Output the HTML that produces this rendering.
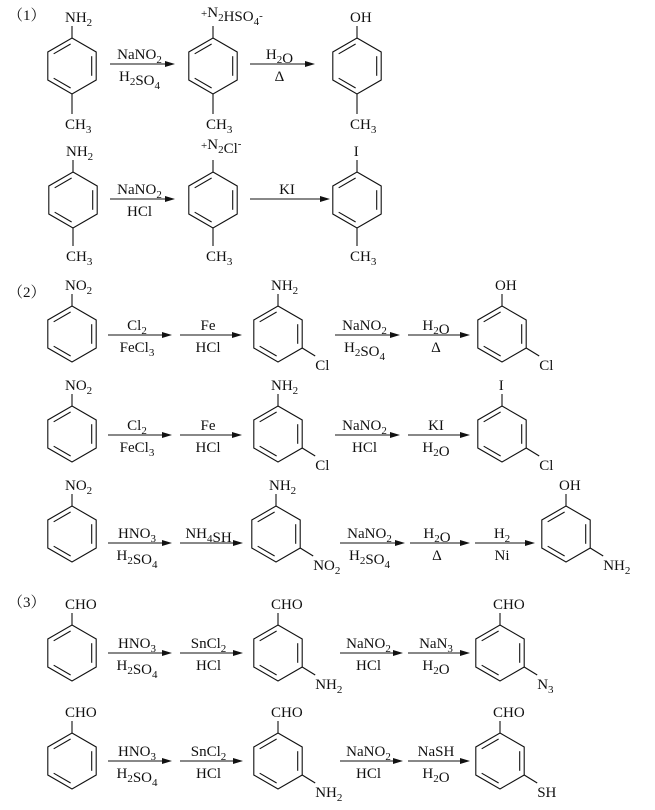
<!DOCTYPE html>
<html><head><meta charset="utf-8"><style>
body{margin:0;background:#fff;width:655px;height:805px;overflow:hidden}
svg text{font-family:"Liberation Serif","Noto Serif CJK SC",serif;font-size:15px;fill:#111}
</style></head><body>
<svg id="s" width="655" height="805" xmlns="http://www.w3.org/2000/svg" stroke="#111" stroke-width="1.1" fill="none"></svg>
<script>
const s=document.getElementById('s');let h='';
const R=28,W=24.2,V=14;
function ring(cx,cy,top,bot,meta,topBond,botLen){
 const p=[[cx,cy-R],[cx+W,cy-V],[cx+W,cy+V],[cx,cy+R],[cx-W,cy+V],[cx-W,cy-V]];
 h+=`<polygon points="${p.map(a=>a.join(',')).join(' ')}"/>`;
 [[5,0],[1,2],[3,4]].forEach(([a,b])=>{
  let A=p[a],B=p[b];let mx=(A[0]+B[0])/2,my=(A[1]+B[1])/2;
  let dx=cx-mx,dy=cy-my,l=Math.hypot(dx,dy);dx=dx/l*4.5;dy=dy/l*4.5;
  let sh=0.15;
  let a1=[A[0]+(B[0]-A[0])*sh+dx,A[1]+(B[1]-A[1])*sh+dy],b1=[B[0]+(A[0]-B[0])*sh+dx,B[1]+(A[1]-B[1])*sh+dy];
  h+=`<line x1="${a1[0]}" y1="${a1[1]}" x2="${b1[0]}" y2="${b1[1]}"/>`;
 });
 if(top||topBond){h+=`<line x1="${cx}" y1="${cy-R}" x2="${cx}" y2="${cy-R-12}"/>`;}
 if(top){h+=`<text x="${cx-7}" y="${cy-R-16}" stroke="none">${top}</text>`;}
 if(bot){const L=botLen||14;h+=`<line x1="${cx}" y1="${cy+R}" x2="${cx}" y2="${cy+R+L}"/>`;h+=`<text x="${cx-7}" y="${cy+R+L+15}" stroke="none">${bot}</text>`;}
 if(meta){h+=`<line x1="${cx+W}" y1="${cy+V}" x2="${cx+W+13}" y2="${cy+V+8}"/>`;h+=`<text x="${cx+W+13}" y="${cy+V+22}" stroke="none">${meta}</text>`;}
}
function arr(x1,x2,y,a,b){
 h+=`<line x1="${x1}" y1="${y}" x2="${x2-8}" y2="${y}"/><polygon points="${x2},${y} ${x2-10},${y-3} ${x2-10},${y+3}" fill="#111" stroke="none"/>`;
 const c=(x1+x2)/2-3;
 if(a)h+=`<text x="${c}" y="${y-5}" text-anchor="middle" stroke="none">${a}</text>`;
 if(b)h+=`<text x="${c}" y="${y+17}" text-anchor="middle" stroke="none">${b}</text>`;
}
const sb=t=>`<tspan font-size="11" dy="4">${t}</tspan><tspan dy="-4"></tspan>`;
const sp=t=>`<tspan font-size="11" dy="-6">${t}</tspan><tspan dy="6"></tspan>`;
const T=(x,y,t)=>h+=`<text x="${x}" y="${y}" stroke="none">${t}</text>`;
const NH2='NH'+sb('2'),CH3='CH'+sb('3'),NO2='NO'+sb('2'),NaNO2='NaNO'+sb('2'),H2SO4='H'+sb('2')+'SO'+sb('4'),H2O='H'+sb('2')+'O';
T(8,20,'（1）');
ring(72,66,NH2,CH3,null,0,20);arr(110,175,64,NaNO2,H2SO4);
ring(213,66,null,CH3,null,1,20);T(201,23,sp('+')+'N'+sb('2')+'HSO'+sb('4')+sp('-'));
arr(250,315,64,H2O,'Δ');ring(357,66,'OH',CH3,null,0,20);
ring(73,200,NH2,CH3,null,0,18);arr(110,175,199,NaNO2,'HCl');
ring(213,200,null,CH3,null,1,18);T(201,155,sp('+')+'N'+sb('2')+'Cl'+sp('-'));
arr(250,330,199,'KI',null);ring(357,200,'&#160;I',CH3,null,0,18);
T(8,297,'（2）');
[[334,'Cl'+sb('2'),'FeCl'+sb('3'),'Fe','HCl',NaNO2,H2SO4,H2O,'Δ','OH'],[434,'Cl'+sb('2'),'FeCl'+sb('3'),'Fe','HCl',NaNO2,'HCl','KI',H2O,'&#160;I']].forEach(r=>{
 const y=r[0];ring(72,y,NO2);arr(108,172,y+1,r[1],r[2]);arr(180,242,y+1,r[3],r[4]);
 ring(278,y,NH2,null,'Cl');arr(335,400,y+1,r[5],r[6]);arr(408,470,y+1,r[7],r[8]);ring(502,y,r[9],null,'Cl');
});
ring(72,534,NO2);arr(108,172,543,'HNO'+sb('3'),H2SO4);arr(180,243,543,'NH'+sb('4')+'SH',null);
ring(276,534,NH2,null,NO2);arr(340,405,543,NaNO2,H2SO4);arr(410,470,543,H2O,'Δ');arr(475,535,543,'H'+sb('2'),'Ni');
ring(566,534,'OH',null,NH2);
T(8,607,'（3）');
[[653,'NaN'+sb('3'),'N'+sb('3')],[761,'NaSH','SH']].forEach(r=>{
 const y=r[0];ring(72,y,'CHO');arr(108,172,y,'HNO'+sb('3'),H2SO4);arr(180,243,y,'SnCl'+sb('2'),'HCl');
 ring(278,y,'CHO',null,NH2);arr(340,403,y,NaNO2,'HCl');arr(408,470,y,r[1],H2O);ring(500,y,'CHO',null,r[2]);
});
s.innerHTML=h;
</script>
</body></html>
